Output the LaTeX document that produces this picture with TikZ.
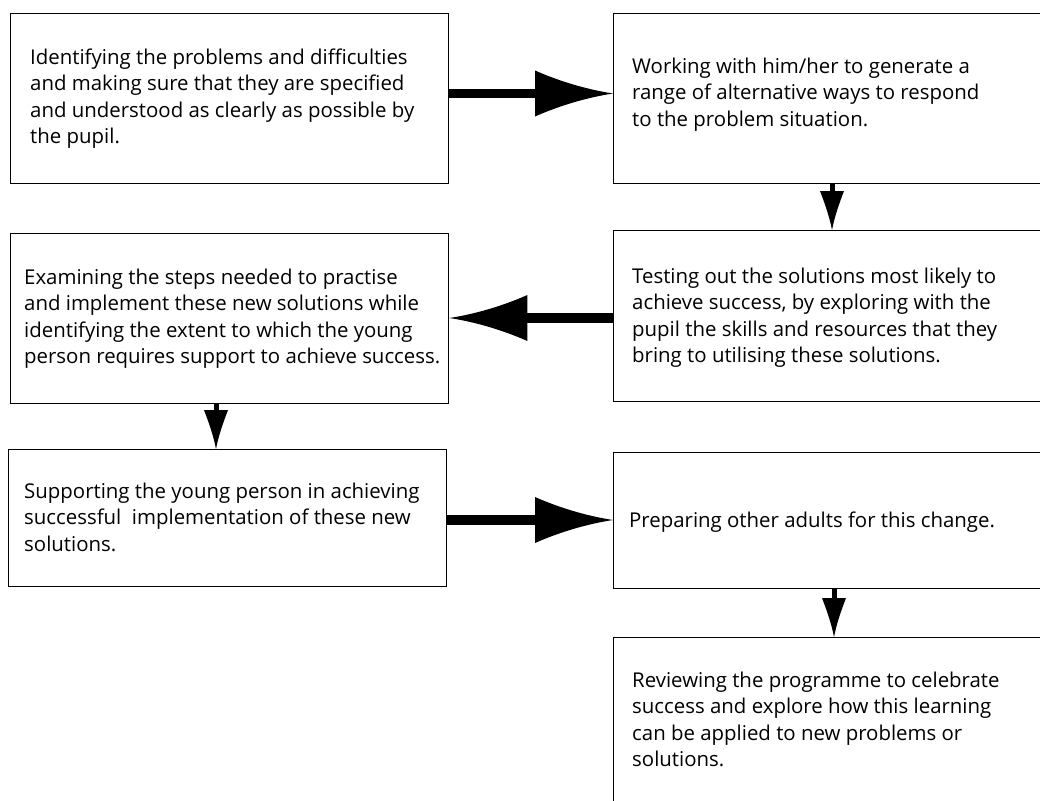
\documentclass[tikz,border=0pt]{standalone}
\usepackage{fontspec}
\setmainfont{Open Sans}
\usetikzlibrary{calc}
\newcommand{\firstln}{\rule{0pt}{18pt}}
\tikzset{
  box/.style={draw, line width=1.4pt, inner sep=0pt, anchor=north west},
  txt/.style={inner sep=0pt, anchor=north west, align=left, font=\fontsize{20.4}{26.5}\selectfont},
  shaftthick/.style={line width=9.5pt},
  shaftthin/.style={line width=5pt},
  pics/bighead/.style={code={\fill (0,0) .. controls (-26,4) and (-53,12) .. (-78,23) -- (-78,-23) .. controls (-53,-12) and (-26,-4) .. (0,0) -- cycle;}},
  pics/smallhead/.style={code={\fill (0,0) .. controls (-13,2.5) and (-26,7) .. (-39,12) -- (-39,-12) .. controls (-26,-7) and (-13,-2.5) .. (0,0) -- cycle;}}
}
\begin{document}
\begin{tikzpicture}[x=1pt,y=1pt]
\useasboundingbox (0,0) rectangle (1040,-800);
\clip (0,0) rectangle (1040,-800);
% boxes
\node[box, minimum width=438pt, minimum height=170pt] (b1) at (10,-13) {};
\node[box, minimum width=432pt, minimum height=170pt] (b2) at (613,-13) {};
\node[box, minimum width=432pt, minimum height=171pt] (b3) at (613,-230) {};
\node[box, minimum width=438pt, minimum height=170pt] (b4) at (10,-233) {};
\node[box, minimum width=438pt, minimum height=137pt] (b5) at (8,-449) {};
\node[box, minimum width=432pt, minimum height=136pt] (b6) at (613,-452) {};
\node[box, minimum width=432pt, minimum height=170pt] (b7) at (613,-637) {};
% texts
\node[txt] (t-b1) at (30,-46) {\firstln Identifying the problems and difficulties\\and making sure that they are specified\\and understood as clearly as possible by\\the pupil.};
\node[txt] (t-b2) at (632,-55) {\firstln Working with him/her to generate a\\range of alternative ways to respond\\to the problem situation.};
\node[txt] (t-b3) at (632,-265) {\firstln Testing out the solutions most likely to\\achieve success, by exploring with the\\pupil the skills and resources that they\\bring to utilising these solutions.};
\node[txt] (t-b4) at (24,-266) {\firstln Examining the steps needed to practise\\and implement these new solutions while\\identifying the extent to which the young\\person requires support to achieve success.};
\node[txt] (t-b5) at (24,-480) {\firstln Supporting the young person in achieving\\successful\ \ implementation of these new\\solutions.};
\node[txt] (t-b6) at (629,-509) {\firstln Preparing other adults for this change.};
\node[txt] (t-b7) at (632,-669) {\firstln Reviewing the programme to celebrate\\success and explore how this learning\\can be applied to new problems or\\solutions.};
% arrow 1: b1 -> b2
\coordinate (tip1) at (b2.west |- 0,-93.5);
\draw[shaftthick] (b1.east |- tip1) -- ([xshift=-76pt]tip1);
\pic at (tip1) {bighead};
% arrow 2: b2 -> b3
\coordinate (tip2) at (832,0 |- b3.north);
\draw[shaftthin] (tip2 |- b2.south) -- ([yshift=37pt]tip2);
\pic[rotate=-90] at (tip2) {smallhead};
% arrow 3: b3 -> b4
\coordinate (tip3) at (b4.east |- 0,-318);
\draw[shaftthick] (b3.west |- tip3) -- ([xshift=76pt]tip3);
\pic[rotate=180] at (tip3) {bighead};
% arrow 4: b4 -> b5
\coordinate (tip4) at (216,0 |- b5.north);
\draw[shaftthin] (tip4 |- b4.south) -- ([yshift=37pt]tip4);
\pic[rotate=-90] at (tip4) {smallhead};
% arrow 5: b5 -> b6
\coordinate (tip5) at (b6.west |- 0,-520);
\draw[shaftthick] (b5.east |- tip5) -- ([xshift=-76pt]tip5);
\pic at (tip5) {bighead};
% arrow 6: b6 -> b7
\coordinate (tip6) at (834,0 |- b7.north);
\draw[shaftthin] (tip6 |- b6.south) -- ([yshift=37pt]tip6);
\pic[rotate=-90] at (tip6) {smallhead};
\end{tikzpicture}
\end{document}
